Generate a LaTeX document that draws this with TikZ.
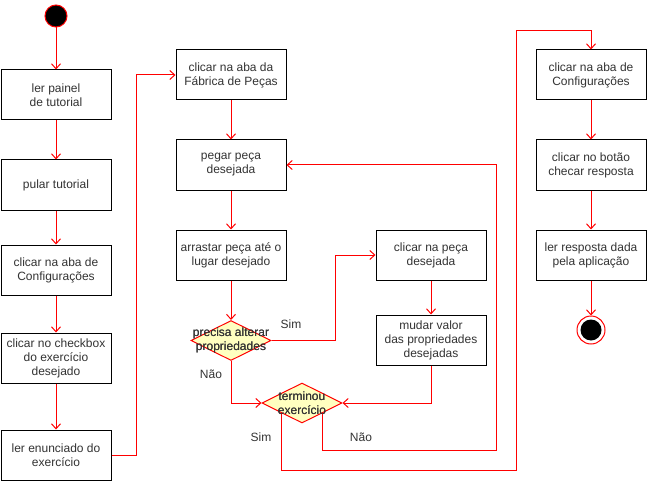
\documentclass[tikz,border=0pt]{standalone}
\usepackage{fontspec}
\setmainfont{Liberation Sans}
\usetikzlibrary{arrows.meta,shapes.geometric,calc}
\definecolor{decfill}{HTML}{FFFFC0}
\definecolor{txt}{HTML}{333333}
\begin{document}
\begin{tikzpicture}[x=1pt,y=-1pt,
  box/.style={draw=black, line width=1pt, minimum width=110pt, minimum height=50pt, inner sep=0pt, align=center, font=\fontsize{12}{14}\selectfont, text=txt, fill=white},
  dec/.style={diamond, draw=red, fill=decfill, line width=1pt, minimum width=80pt, minimum height=40pt, inner sep=0pt},
  dectext/.style={align=center, font=\fontsize{12}{14}\selectfont, text=txt, inner sep=0pt},
  lbl/.style={font=\fontsize{12}{14}\selectfont, text=txt, inner sep=0pt},
  arr/.style={draw=red, line width=1pt, -{Straight Barb[length=5pt,width=9pt]}},
  ln/.style={draw=red, line width=1pt}
]
\useasboundingbox (0,0) rectangle (647,481);

% start
\node[circle, fill=black, draw=red, line width=1pt, minimum size=22pt, inner sep=0pt] (start) at (56,16) {};

% left column
\node[box] (L1) at (56,95) {ler painel\\de tutorial};
\node[box] (L2) at (56,185) {pular tutorial};
\node[box] (L3) at (56,270) {clicar na aba de\\Configurações};
\node[box] (L4) at (56,358) {clicar no checkbox\\do exercício\\desejado};
\node[box] (L5) at (56,455) {ler enunciado do\\exercício};

% middle column
\node[box] (M1) at (231,75) {clicar na aba da\\Fábrica de Peças};
\node[box] (M2) at (231,165) {pegar peça\\desejada};
\node[box] (M3) at (231,255) {arrastar peça até o\\lugar desejado};
\node[dec] (D1) at (231,340.5) {};
\node[dectext] (D1t) at (231,340.5) {precisa alterar\\propriedades};

\node[box] (D) at (431,255) {clicar na peça\\desejada};
\node[box] (E) at (431,340) {mudar valor\\das propriedades\\desejadas};

\node[dec] (D2) at (302,403) {};
\node[dectext] (D2t) at (302,403) {terminou\\exercício};

% right column
\node[box] (R1) at (591,75) {clicar na aba de\\Configurações};
\node[box] (R2) at (591,165) {clicar no botão\\checar resposta};
\node[box] (R3) at (591,255) {ler resposta dada\\pela aplicação};
\node[circle, draw=red, line width=1pt, fill=white, minimum size=28pt, inner sep=0pt] (end) at (591,330) {};
\fill[black] (end.center) circle (10.5pt);

% connectors
\draw[arr] (start) -- (L1);
\draw[arr] (L1) -- (L2);
\draw[arr] (L2) -- (L3);
\draw[arr] (L3) -- (L4);
\draw[arr] (L4) -- (L5);
\draw[arr] (L5.east) -- ++(25,0) |- (M1.west);
\draw[arr] (M1) -- (M2);
\draw[arr] (M2) -- (M3);
\draw[arr] (M3) -- (D1.north);
\draw[arr] (D1.east) -- ++(64,0) |- (D.west);
\draw[arr] (D) -- (E);
\draw[arr] (D1.south) |- (D2.west);
\draw[arr] (E.south) |- (D2.east);
\coordinate (d2se) at ($(D2.south)!0.5!(D2.east)$);
\coordinate (d2sw) at ($(D2.south)!0.5!(D2.west)$);
\draw[arr] (d2se) |- (496,450) |- (M2.east);
\draw[arr] (d2sw) |- (516,470) |- (591,31) -- (R1.north);
\draw[arr] (R1) -- (R2);
\draw[arr] (R2) -- (R3);
\draw[arr] (R3) -- (end);

% redraw diamond text on top
\node[dectext] at (231,340.5) {precisa alterar\\propriedades};
\node[dectext] at (302,403) {terminou\\exercício};

% labels
\node[lbl] (s1) at (291,324) {Sim};
\node[lbl] (n1) at (211,374) {Não};
\node[lbl] (s2) at (261,437) {Sim};
\node[lbl] (n2) at (361,437) {Não};
\end{tikzpicture}
\end{document}
